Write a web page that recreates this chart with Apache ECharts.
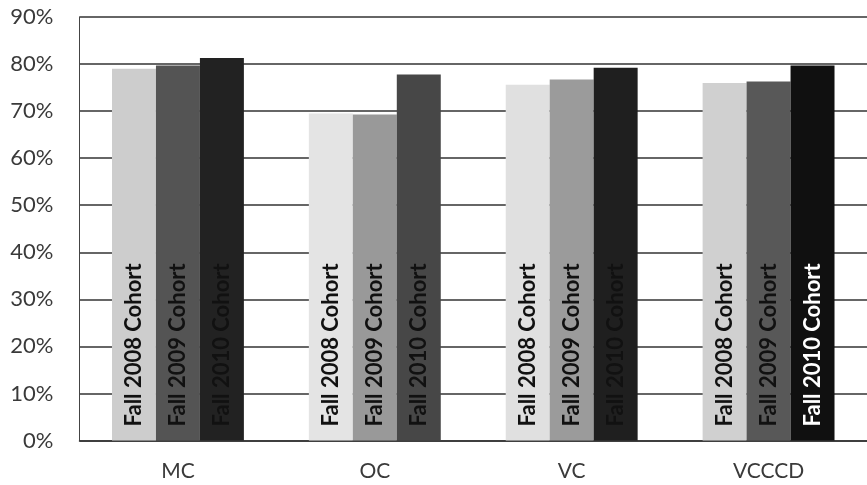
<!DOCTYPE html>
<html>
<head>
<meta charset="utf-8">
<script src="https://cdn.jsdelivr.net/npm/echarts@6/dist/echarts.min.js"></script>
<style>html,body{margin:0;padding:0;background:#fff}#c{width:867px;height:485px}</style>
</head>
<body>
<div id="c"></div>
<script>
var categories = ['MC', 'OC', 'VC', 'VCCCD'];
var seriesNames = ['Fall 2008 Cohort', 'Fall 2009 Cohort', 'Fall 2010 Cohort'];
var fall2008 = [79.0, 69.5, 75.6, 76.0];
var fall2009 = [79.7, 69.3, 76.7, 76.3];
var fall2010 = [81.3, 77.8, 79.2, 79.7];
var yTicks = [0, 10, 20, 30, 40, 50, 60, 70, 80, 90];

var barColors = [
  ['#cdcdcd', '#e4e4e4', '#e0e0e0', '#d0d0d0'],
  ['#545454', '#999999', '#9b9b9b', '#585858'],
  ['#222222', '#474747', '#1f1f1f', '#101010']
];
var labelColors = [
  ['#111', '#111', '#111', '#111'],
  ['#111', '#111', '#111', '#111'],
  ['#111', '#111', '#111', '#ffffff']
];

var values = [fall2008, fall2009, fall2010];
var series = values.map(function (arr, si) {
  return {
    name: seriesNames[si],
    type: 'bar',
    barGap: '0%',
    barCategoryGap: '33%',
    data: arr.map(function (v, ci) {
      return {
        value: v,
        itemStyle: { color: barColors[si][ci] },
        label: { color: labelColors[si][ci] }
      };
    }),
    label: {
      show: true,
      position: 'insideBottom',
      rotate: 90,
      align: 'left',
      verticalAlign: 'middle',
      distance: 14,
      formatter: seriesNames[si],
      fontFamily: 'Lato, "Open Sans", sans-serif',
      fontWeight: 'bold',
      fontSize: 22
    }
  };
});

var chart = echarts.init(document.getElementById('c'), null, { renderer: 'canvas' });
chart.setOption({
  animation: false,
  backgroundColor: '#fff',
  grid: { left: 79.5, width: 796, top: 17, bottom: 44.5, containLabel: false },
  xAxis: {
    type: 'category',
    data: categories,
    axisLine: { show: true, lineStyle: { color: '#333', width: 1.5 } },
    axisTick: { show: false },
    axisLabel: { color: '#3a3a3a', fontSize: 21, fontFamily: 'Lato, "Open Sans", sans-serif', margin: 20 }
  },
  yAxis: {
    type: 'value',
    min: yTicks[0],
    max: yTicks[yTicks.length - 1],
    interval: 10,
    axisLine: { show: true, lineStyle: { color: '#444', width: 1 } },
    axisTick: { show: false },
    splitLine: { show: true, lineStyle: { color: '#333', width: 1.5 } },
    axisLabel: {
      color: '#3a3a3a', fontSize: 22, fontFamily: 'Lato, "Open Sans", sans-serif', margin: 26,
      formatter: function (v) { return v + '%'; }
    }
  },
  series: series
});
</script>
</body>
</html>
